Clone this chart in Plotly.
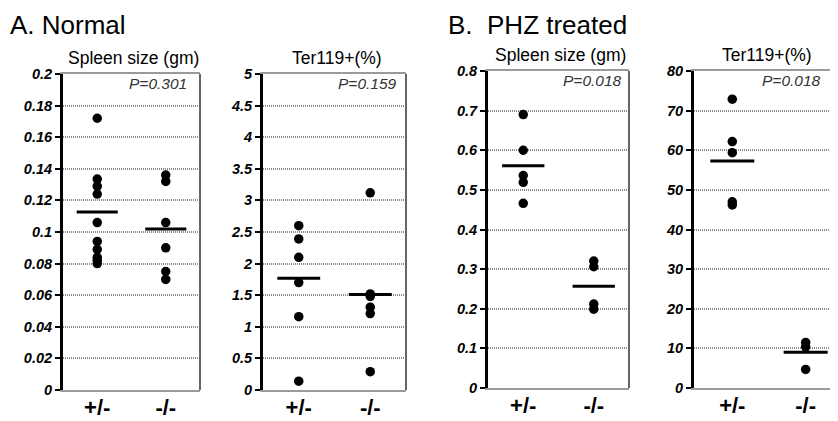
import plotly.graph_objects as go

W, H = 838, 421
OFF = 8  # page body margin of the browser

groups = ["+/-", "-/-"]

# A. Normal
normal_spleen_het = [0.172, 0.1335, 0.129, 0.124, 0.106, 0.094, 0.089, 0.084, 0.082, 0.080]
normal_spleen_ko = [0.136, 0.132, 0.106, 0.090, 0.075, 0.070]
normal_spleen_mean = [0.1127, 0.1019]
normal_ter_het = [2.60, 2.39, 2.10, 1.70, 1.16, 0.14]
normal_ter_ko = [3.12, 1.52, 1.48, 1.31, 1.21, 0.29]
normal_ter_mean = [1.77, 1.51]

# B. PHZ treated
phz_spleen_het = [0.69, 0.60, 0.536, 0.519, 0.466]
phz_spleen_ko = [0.3205, 0.306, 0.212, 0.199]
phz_spleen_mean = [0.561, 0.257]
phz_ter_het = [72.9, 62.2, 59.4, 47.0, 46.2]
phz_ter_ko = [11.5, 10.4, 4.7]
phz_ter_mean = [57.3, 9.0]

titles = ["Spleen size (gm)", "Ter119+(%)", "Spleen size (gm)", "Ter119+(%)"]
pvalues = ["P=0.301", "P=0.159", "P=0.018", "P=0.018"]

ticks_spleen_normal = ["0", "0.02", "0.04", "0.06", "0.08", "0.1", "0.12", "0.14", "0.16", "0.18", "0.2"]
ticks_ter_normal = ["0", "0.5", "1", "1.5", "2", "2.5", "3", "3.5", "4", "4.5", "5"]
ticks_spleen_phz = ["0", "0.1", "0.2", "0.3", "0.4", "0.5", "0.6", "0.7", "0.8"]
ticks_ter_phz = ["0", "10", "20", "30", "40", "50", "60", "70", "80"]

panels = [
    dict(het=normal_spleen_het, ko=normal_spleen_ko, mean=normal_spleen_mean,
         ticks=ticks_spleen_normal, ymax=0.2, px=(63, 200), py=(74, 390), xr=(0.5, 2.5), border=True, pin=11),
    dict(het=normal_ter_het, ko=normal_ter_ko, mean=normal_ter_mean,
         ticks=ticks_ter_normal, ymax=5, px=(263, 406), py=(74, 390), xr=(0.5, 2.5), border=True, pin=7),
    dict(het=phz_spleen_het, ko=phz_spleen_ko, mean=phz_spleen_mean,
         ticks=ticks_spleen_phz, ymax=0.8, px=(488, 629), py=(71, 388), xr=(0.5, 2.5), border=True, pin=5),
    dict(het=phz_ter_het, ko=phz_ter_ko, mean=phz_ter_mean,
         ticks=ticks_ter_phz, ymax=80, px=(694, 846), py=(71, 388), xr=(0.478, 2.55), border=False, pin=23),
]

FONT = "Liberation Sans, Arial, sans-serif"
HALF = 0.3

fig = go.Figure()
annotations = []
shapes = []


def fx(x):
    return (x - OFF) / W


def fy(y):
    return 1 - (y - OFF) / H


for i, p in enumerate(panels):
    n = "" if i == 0 else str(i + 1)
    xa, ya = "x" + n, "y" + n
    for gi, vals in enumerate([p["het"], p["ko"]]):
        fig.add_trace(go.Scatter(
            x=[gi + 1] * len(vals), y=vals, mode="markers",
            marker=dict(color="black", size=9.5),
            xaxis=xa, yaxis=ya, showlegend=False, cliponaxis=False, hoverinfo="y"))
        m = p["mean"][gi]
        fig.add_trace(go.Scatter(
            x=[gi + 1 - HALF, gi + 1 + HALF], y=[m, m], mode="lines",
            line=dict(color="black", width=3),
            xaxis=xa, yaxis=ya, showlegend=False, hoverinfo="y"))
    nt = len(p["ticks"])
    tickvals = [p["ymax"] * k / (nt - 1) for k in range(nt)]
    fig.update_layout(**{
        "xaxis" + n: dict(
            domain=[fx(p["px"][0]), fx(p["px"][1])], range=list(p["xr"]),
            anchor=ya, tickvals=[1, 2], ticktext=groups, showgrid=False, zeroline=False,
            showline=True, linecolor="#9a9a9a", linewidth=2, mirror=True, ticks="",
            tickfont=dict(family=FONT, size=22, color="black", weight="bold"),
            ticklabelstandoff=-3, fixedrange=True, automargin=False),
        "yaxis" + n: dict(
            domain=[fy(p["py"][1]), fy(p["py"][0])], range=[0, p["ymax"]],
            anchor=xa, tickvals=tickvals, ticktext=p["ticks"],
            showgrid=True, gridcolor="#8c8c8c", griddash="1px,1px", gridwidth=1.5,
            zeroline=False, showline=True, linecolor="black", linewidth=3,
            ticks="outside", ticklen=5, tickwidth=2, tickcolor="black",
            tickfont=dict(family=FONT, size=14.5, color="black", weight="bold", style="italic"),
            ticklabelstandoff=0, fixedrange=True, automargin=False),
    })
    if p["border"]:
        shapes.append(dict(type="line", xref=xa + " domain", yref=ya + " domain",
                           x0=1, x1=1, y0=0, y1=1, line=dict(color="#666666", width=2)))
    # subtitle
    annotations.append(dict(text=titles[i], xref="paper", yref="paper",
                             x=fx((p["px"][0] + min(p["px"][1], 835)) / 2 + 2), y=fy(p["py"][0] - 16),
                             xanchor="center", yanchor="middle", showarrow=False,
                             font=dict(family=FONT, size=17.5, color="black")))
    # p-value
    annotations.append(dict(text=pvalues[i], xref=xa + " domain", yref=ya + " domain",
                             x=1 - p["pin"] / (p["px"][1] - p["px"][0]),
                             y=1 - 9 / (p["py"][1] - p["py"][0]),
                             xanchor="right", yanchor="middle", showarrow=False,
                             font=dict(family=FONT, size=15.5, color="#333333", style="italic")))

annotations.append(dict(text="A. Normal", xref="paper", yref="paper", x=fx(8), y=fy(24.5),
                        xanchor="left", yanchor="middle", showarrow=False,
                        font=dict(family=FONT, size=26, color="black")))
annotations.append(dict(text="B.\u00a0 PHZ treated", xref="paper", yref="paper", x=fx(446), y=fy(24.5),
                        xanchor="left", yanchor="middle", showarrow=False,
                        font=dict(family=FONT, size=26, color="black")))

fig.update_layout(width=W, height=H, margin=dict(l=0, r=0, t=0, b=0, autoexpand=False),
                  paper_bgcolor="white", plot_bgcolor="white",
                  annotations=annotations, shapes=shapes, showlegend=False)

fig.write_html("out.html")
